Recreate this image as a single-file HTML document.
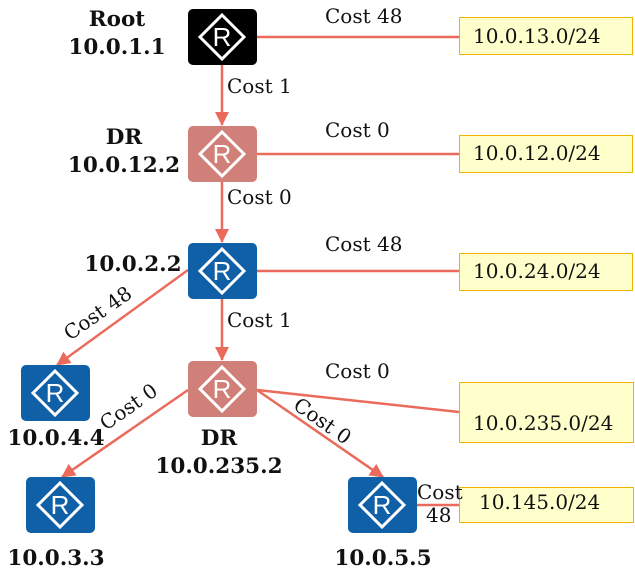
<!DOCTYPE html>
<html><head><meta charset="utf-8"><style>
html,body{margin:0;padding:0;background:#fff;}
svg{display:block;}
text{font-family:"DejaVu Serif","Liberation Serif",serif;font-size:20px;fill:#111;}
.b{font-weight:bold;font-size:21.5px;}
.r{font-family:"Liberation Sans","DejaVu Sans",sans-serif;font-size:26px;fill:#fff;}
</style></head><body>
<svg width="635" height="581" viewBox="0 0 635 581" xmlns="http://www.w3.org/2000/svg">
<defs>
<marker id="a" markerWidth="14" markerHeight="14" refX="13" refY="7" orient="auto" markerUnits="userSpaceOnUse">
<path d="M0,0 L14,7 L0,14 z" fill="#ea6b5b"/></marker>
<g id="rt">
<polygon points="34,6 56,28 34,50 12,28" fill="none" stroke="#fff" stroke-width="3"/>
<text x="34" y="37" text-anchor="middle" class="r">R</text>
</g>
</defs>
<g stroke="#ea6b5b" stroke-width="2.5" fill="none">
<line x1="257" y1="37" x2="459" y2="37"/>
<line x1="257" y1="154" x2="459" y2="154"/>
<line x1="257" y1="271" x2="459" y2="271"/>
<line x1="257" y1="390" x2="459" y2="412"/>
<line x1="417" y1="505" x2="459" y2="505"/>
<line x1="222" y1="65" x2="222" y2="125" marker-end="url(#a)"/>
<line x1="222" y1="182" x2="222" y2="242" marker-end="url(#a)"/>
<line x1="222" y1="299" x2="222" y2="360" marker-end="url(#a)"/>
<line x1="188" y1="270" x2="57" y2="365" marker-end="url(#a)"/>
<line x1="188" y1="390" x2="62" y2="477" marker-end="url(#a)"/>
<line x1="257" y1="390" x2="383" y2="477" marker-end="url(#a)"/>
</g>
<rect x="188" y="9" width="69" height="56" rx="5" fill="#000"/><use href="#rt" x="188" y="9"/>
<rect x="188" y="126" width="69" height="56" rx="5" fill="#d08078"/><use href="#rt" x="188" y="126"/>
<rect x="188" y="243" width="69" height="56" rx="5" fill="#1060a8"/><use href="#rt" x="188" y="243"/>
<rect x="188" y="361" width="69" height="56" rx="5" fill="#d08078"/><use href="#rt" x="188" y="361"/>
<rect x="21" y="365" width="69" height="56" rx="5" fill="#1060a8"/><use href="#rt" x="21" y="365"/>
<rect x="26" y="477" width="69" height="56" rx="5" fill="#1060a8"/><use href="#rt" x="26" y="477"/>
<rect x="348" y="477" width="69" height="56" rx="5" fill="#1060a8"/><use href="#rt" x="348" y="477"/>
<g fill="#ffffcc" stroke="#f0b400" stroke-width="1">
<rect x="459.5" y="17.5" width="173" height="37"/>
<rect x="459.5" y="135.5" width="173" height="37"/>
<rect x="459.5" y="253.5" width="173" height="37"/>
<rect x="459.5" y="382.5" width="174" height="60"/>
<rect x="459.5" y="487.5" width="174" height="35"/>
</g>
<text x="473" y="43">10.0.13.0/24</text>
<text x="473" y="160">10.0.12.0/24</text>
<text x="473" y="278">10.0.24.0/24</text>
<text x="473" y="430">10.0.235.0/24</text>
<text x="479" y="509">10.145.0/24</text>
<text x="325" y="23">Cost 48</text>
<text x="325" y="137">Cost 0</text>
<text x="325" y="251">Cost 48</text>
<text x="325" y="378">Cost 0</text>
<text x="227" y="93">Cost 1</text>
<text x="227" y="204">Cost 0</text>
<text x="227" y="327">Cost 1</text>
<text x="417" y="499">Cost</text>
<text x="426" y="522">48</text>
<text transform="translate(70,341) rotate(-35)">Cost 48</text>
<text transform="translate(106,431) rotate(-35)">Cost 0</text>
<text transform="translate(292,408) rotate(35)">Cost 0</text>
<text class="b" x="117" y="26" text-anchor="middle">Root</text>
<text class="b" x="117" y="54" text-anchor="middle">10.0.1.1</text>
<text class="b" x="124" y="144" text-anchor="middle">DR</text>
<text class="b" x="124" y="172" text-anchor="middle">10.0.12.2</text>
<text class="b" x="133" y="271" text-anchor="middle">10.0.2.2</text>
<text class="b" x="56" y="445" text-anchor="middle">10.0.4.4</text>
<text class="b" x="219" y="445" text-anchor="middle">DR</text>
<text class="b" x="219" y="473" text-anchor="middle">10.0.235.2</text>
<text class="b" x="56" y="565" text-anchor="middle">10.0.3.3</text>
<text class="b" x="383" y="565" text-anchor="middle">10.0.5.5</text>
</svg>
</body></html>
